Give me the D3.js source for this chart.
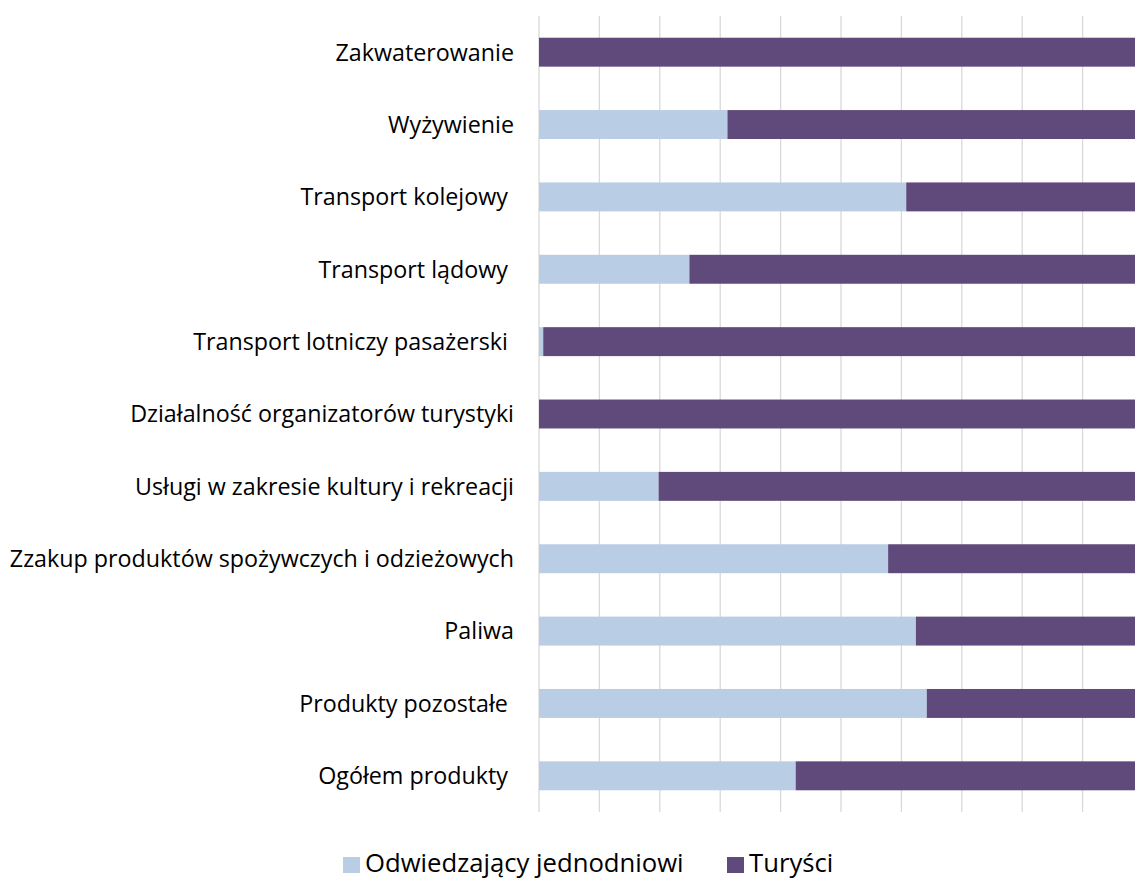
<!DOCTYPE html>
<html>
<head>
<meta charset="utf-8">
<script src="https://cdn.jsdelivr.net/npm/d3@7"></script>
<style>
  html, body { margin: 0; padding: 0; background: #ffffff; }
  svg { display: block; }
  text { font-family: "Open Sans", "Noto Sans", sans-serif; fill: #000; }
</style>
</head>
<body>
<svg id="chart" width="1135" height="880"></svg>
<script>
const categories = [
  "Zakwaterowanie",
  "Wyżywienie",
  "Transport kolejowy ",
  "Transport lądowy ",
  "Transport lotniczy pasażerski ",
  "Działalność organizatorów turystyki",
  "Usługi w zakresie kultury i rekreacji",
  "Zzakup produktów spożywczych i odzieżowych",
  "Paliwa",
  "Produkty pozostałe ",
  "Ogółem produkty "
];
const odwiedzajacy = [0, 0.312, 0.608, 0.249, 0.007, 0, 0.198, 0.578, 0.624, 0.642, 0.425];
const turysci      = [1, 0.688, 0.392, 0.751, 0.993, 1, 0.802, 0.422, 0.376, 0.358, 0.575];
const seriesNames = ["Odwiedzający jednodniowi", "Turyści"];
const seriesKeys = ["odw", "tur"];
const colors = ["#B9CDE5", "#604A7B"];

const svg = d3.select("#chart");

function measure(txt, size) {
  const t = svg.append("text").attr("font-size", size).style("white-space", "pre").text(txt);
  const w = t.node().getComputedTextLength();
  t.remove();
  return w;
}
// fit label font so widths match the reference
const labelSize = 100 * (505 + 178) / (measure("Zzakup produktów spożywczych i odzieżowych", 100) + measure("Zakwaterowanie", 100));
const legendSize = 100 * (320 + 83) / (measure("Odwiedzający jednodniowi", 100) + measure("Turyści", 100));

const data = categories.map((c, i) => ({ cat: c, odw: odwiedzajacy[i], tur: turysci[i] }));
const stacked = d3.stack().keys(seriesKeys).offset(d3.stackOffsetExpand)(data);

const x = d3.scaleLinear().domain([0, 1]).range([539, 1143]);
const y = d3.scaleBand().domain(categories).range([16, 812]).paddingInner(0.6).paddingOuter(0.3);

// gridlines
svg.append("g")
  .selectAll("line")
  .data(x.ticks(10))
  .join("line")
  .attr("x1", d => x(d)).attr("x2", d => x(d))
  .attr("y1", 16).attr("y2", 812)
  .attr("stroke", "#D9D9D9").attr("stroke-width", 1.3);

// bars
svg.append("g")
  .selectAll("g")
  .data(stacked)
  .join("g")
  .attr("fill", (d, i) => colors[i])
  .selectAll("rect")
  .data(d => d)
  .join("rect")
  .attr("x", d => x(d[0]))
  .attr("width", d => Math.max(0, x(d[1]) - x(d[0])))
  .attr("y", d => y(d.data.cat))
  .attr("height", y.bandwidth());

// category labels
svg.append("g")
  .selectAll("text")
  .data(categories)
  .join("text")
  .attr("x", 514)
  .attr("y", d => y(d) + y.bandwidth() / 2 + labelSize * 0.36)
  .attr("text-anchor", "end")
  .attr("font-size", labelSize)
  .style("white-space", "pre")
  .text(d => d);

// legend
const legendX = [343, 727];
const lg = svg.append("g");
seriesNames.forEach((name, i) => {
  lg.append("rect")
    .attr("x", legendX[i]).attr("y", 857)
    .attr("width", 17).attr("height", 16)
    .attr("fill", colors[i]);
  lg.append("text")
    .attr("x", legendX[i] + 22)
    .attr("y", 872)
    .attr("font-size", legendSize)
    .text(name);
});
</script>
</body>
</html>
